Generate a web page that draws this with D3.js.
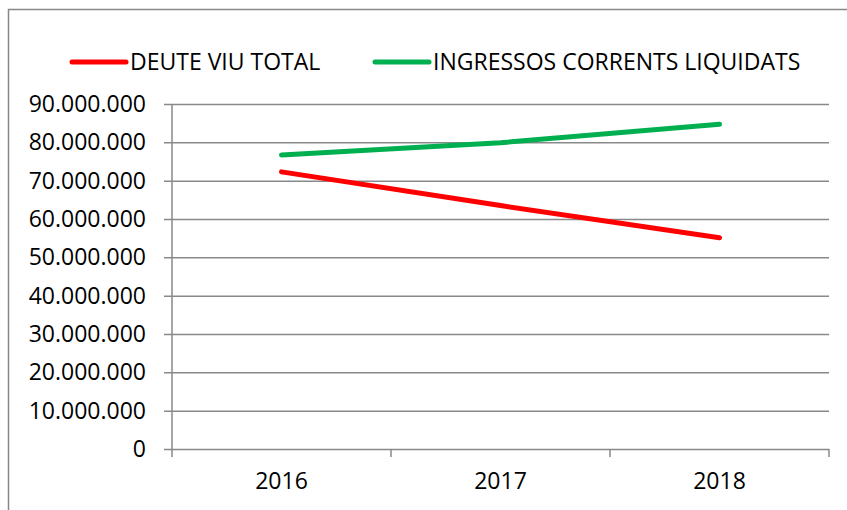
<!DOCTYPE html>
<html>
<head>
<meta charset="utf-8">
<script src="https://cdn.jsdelivr.net/npm/d3@7"></script>
<style>
  body { margin: 0; background: #fff; }
  svg { display: block; }
  svg text { font-family: "Open Sans", sans-serif; }
</style>
</head>
<body>
<div id="container"></div>
<script>
const width = 847;
const height = 510;

// data
const years = ["2016", "2017", "2018"];
const deuteViu = [72300000, 63500000, 55100000];
const ingressos = [76700000, 79900000, 84700000];
const yTicks = [0, 10000000, 20000000, 30000000, 40000000, 50000000, 60000000, 70000000, 80000000, 90000000];
const seriesNames = ["DEUTE VIU TOTAL", "INGRESSOS CORRENTS LIQUIDATS"];
const seriesColors = ["#ff0000", "#00b050"];

const plot = {left: 172, right: 829, top: 104, bottom: 449};

const svg = d3.select("#container").append("svg")
    .attr("width", width)
    .attr("height", height);

// outer chart border (runs off the right and bottom edges)
svg.append("rect")
    .attr("x", 8.5).attr("y", 9.5)
    .attr("width", 860).attr("height", 520)
    .attr("fill", "none")
    .attr("stroke", "#878787")
    .attr("stroke-width", 1.5);

const x = d3.scaleBand().domain(years).range([plot.left, plot.right]);
const y = d3.scaleLinear().domain([0, 90000000]).range([plot.bottom, plot.top]);

const fmt = v => d3.format(",")(v).replace(/,/g, ".");

// y axis with gridlines
const yAxis = d3.axisLeft(y)
    .tickValues(yTicks)
    .tickFormat(fmt)
    .tickSize(-(plot.right - plot.left))
    .tickPadding(26);

const gy = svg.append("g")
    .attr("transform", "translate(" + plot.left + ",0)")
    .call(yAxis);
gy.select(".domain").remove();
gy.selectAll(".tick line")
    .attr("x1", -8)
    .attr("stroke", "#898989")
    .attr("stroke-width", 1.5);
gy.selectAll(".tick text")
    .attr("fill", "#000")
    .style("font-size", "23px");

// vertical axis line
svg.append("line")
    .attr("x1", plot.left).attr("x2", plot.left)
    .attr("y1", plot.top).attr("y2", plot.bottom)
    .attr("stroke", "#898989").attr("stroke-width", 1.5);

// x axis
const xAxis = d3.axisBottom(x).tickSize(0).tickPadding(24);
const gx = svg.append("g")
    .attr("transform", "translate(0," + plot.bottom + ")")
    .call(xAxis);
gx.select(".domain").remove();
gx.selectAll(".tick text")
    .attr("fill", "#000")
    .style("font-size", "23px");

// category boundary ticks
const bounds = years.map(d => x(d)).concat([x(years[years.length - 1]) + x.bandwidth()]);
svg.append("g").selectAll("line")
    .data(bounds)
    .enter().append("line")
    .attr("x1", d => d).attr("x2", d => d)
    .attr("y1", plot.bottom).attr("y2", plot.bottom + 8)
    .attr("stroke", "#898989").attr("stroke-width", 1.5);

// lines
const line = d3.line()
    .x((d, i) => x(years[i]) + x.bandwidth() / 2)
    .y(d => y(d));

[deuteViu, ingressos].forEach((s, i) => {
    svg.append("path")
        .attr("d", line(s))
        .attr("fill", "none")
        .attr("stroke", seriesColors[i])
        .attr("stroke-width", 5)
        .attr("stroke-linecap", "round")
        .attr("stroke-linejoin", "round");
});

// legend
const legendX = [72, 375];
seriesNames.forEach((name, i) => {
    const g = svg.append("g").attr("transform", "translate(" + legendX[i] + ",62)");
    g.append("line")
        .attr("x1", 0).attr("x2", 54)
        .attr("stroke", seriesColors[i])
        .attr("stroke-width", 5)
        .attr("stroke-linecap", "round");
    g.append("text")
        .attr("x", 58).attr("dy", "0.36em")
        .style("font-size", "23px")
        .attr("fill", "#000")
        .text(name);
});
</script>
</body>
</html>
